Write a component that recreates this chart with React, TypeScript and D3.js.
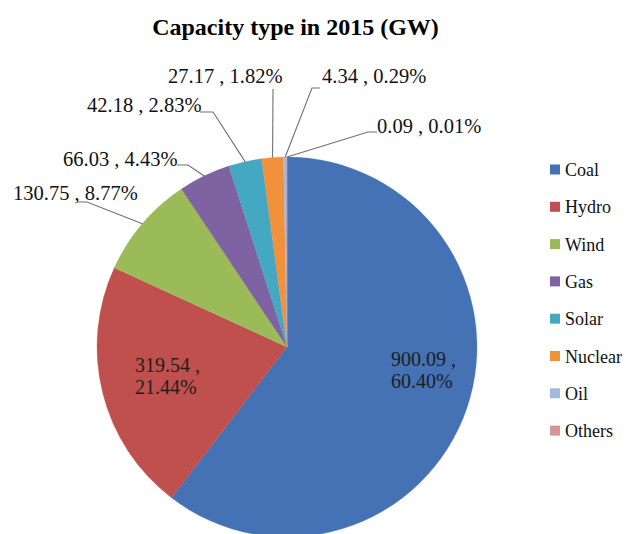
import React from "react";
import * as d3 from "d3";

const categories = ["Coal", "Hydro", "Wind", "Gas", "Solar", "Nuclear", "Oil", "Others"];
const values = [900.09, 319.54, 130.75, 66.03, 42.18, 27.17, 4.34, 0.09];
const colors = ["#4472B4", "#C0504D", "#9BBB59", "#7E62A1", "#45A8C2", "#F1913B", "#A3B8DA", "#D99497"];
const title = "Capacity type in 2015 (GW)";

type LabelLayout = { x: number; y: number; inside?: boolean; leader?: [number, number][] };
const labelLayout: LabelLayout[] = [
  { x: 391, y: 366, inside: true },
  { x: 135, y: 372, inside: true },
  { x: 13, y: 200, leader: [[77, 202], [87, 202]] },
  { x: 63, y: 166, leader: [[177, 165], [188, 165]] },
  { x: 87, y: 112, leader: [[200, 112], [213, 112]] },
  { x: 168, y: 83, leader: [[273, 89]] },
  { x: 322, y: 83, leader: [[320, 88], [312, 88]] },
  { x: 377, y: 133, leader: [[377, 132], [368, 132]] },
];

const W = 630, H = 534;
const cx = 287, cy = 347, R = 190;
const FONT = '"Liberation Serif", "DejaVu Serif", serif';

export default function App() {
  const total = d3.sum(values);
  const pie = d3.pie<number>().sort(null).value((d) => d);
  const arcs = pie(values);
  const arcGen = d3.arc<d3.PieArcDatum<number>>().innerRadius(0).outerRadius(R);
  const fmtPct = (v: number) => ((v / total) * 100).toFixed(2) + "%";
  const line = d3.line();

  return (
    <svg width={W} height={H} style={{ position: "absolute", left: 0, top: 0, background: "#fff", fontFamily: FONT }}>
      <text x={295.5} y={35} textAnchor="middle" style={{ fontFamily: FONT }} fontWeight="bold" fontSize={24} fill="#000">
        {title}
      </text>
      <g transform={`translate(${cx},${cy})`}>
        {arcs.map((a, i) => (
          <path key={i} d={arcGen(a) || ""} fill={colors[i]} stroke={colors[i]} strokeWidth={0.3} />
        ))}
      </g>
      {arcs.map((a, i) => {
        const L = labelLayout[i];
        if (L.inside) {
          return (
            <text key={"t" + i} style={{ fontFamily: FONT }} fontSize={20} fill="#1e1e1e">
              <tspan x={L.x} y={L.y}>{values[i].toFixed(2)} ,</tspan>
              <tspan x={L.x} y={L.y + 22}>{fmtPct(values[i])}</tspan>
            </text>
          );
        }
        const mid = (a.startAngle + a.endAngle) / 2;
        const edge: [number, number] = [cx + R * Math.sin(mid), cy - R * Math.cos(mid)];
        const pts = [...(L.leader || []), edge] as [number, number][];
        return (
          <g key={"t" + i}>
            <path d={line(pts) || ""} fill="none" stroke="#707070" strokeWidth={1.1} />
            <text x={L.x} y={L.y} style={{ fontFamily: FONT }} fontSize={20.5} fill="#111">
              {values[i].toFixed(2)} , {fmtPct(values[i])}
            </text>
          </g>
        );
      })}
      {categories.map((c, i) => {
        const yc = 169.5 + i * 37.3;
        return (
          <g key={"l" + i}>
            <rect x={550} y={yc - 5} width={10} height={10} fill={colors[i]} />
            <text x={565} y={yc + 6.5} style={{ fontFamily: FONT }} fontSize={18} fill="#111">
              {c}
            </text>
          </g>
        );
      })}
    </svg>
  );
}
